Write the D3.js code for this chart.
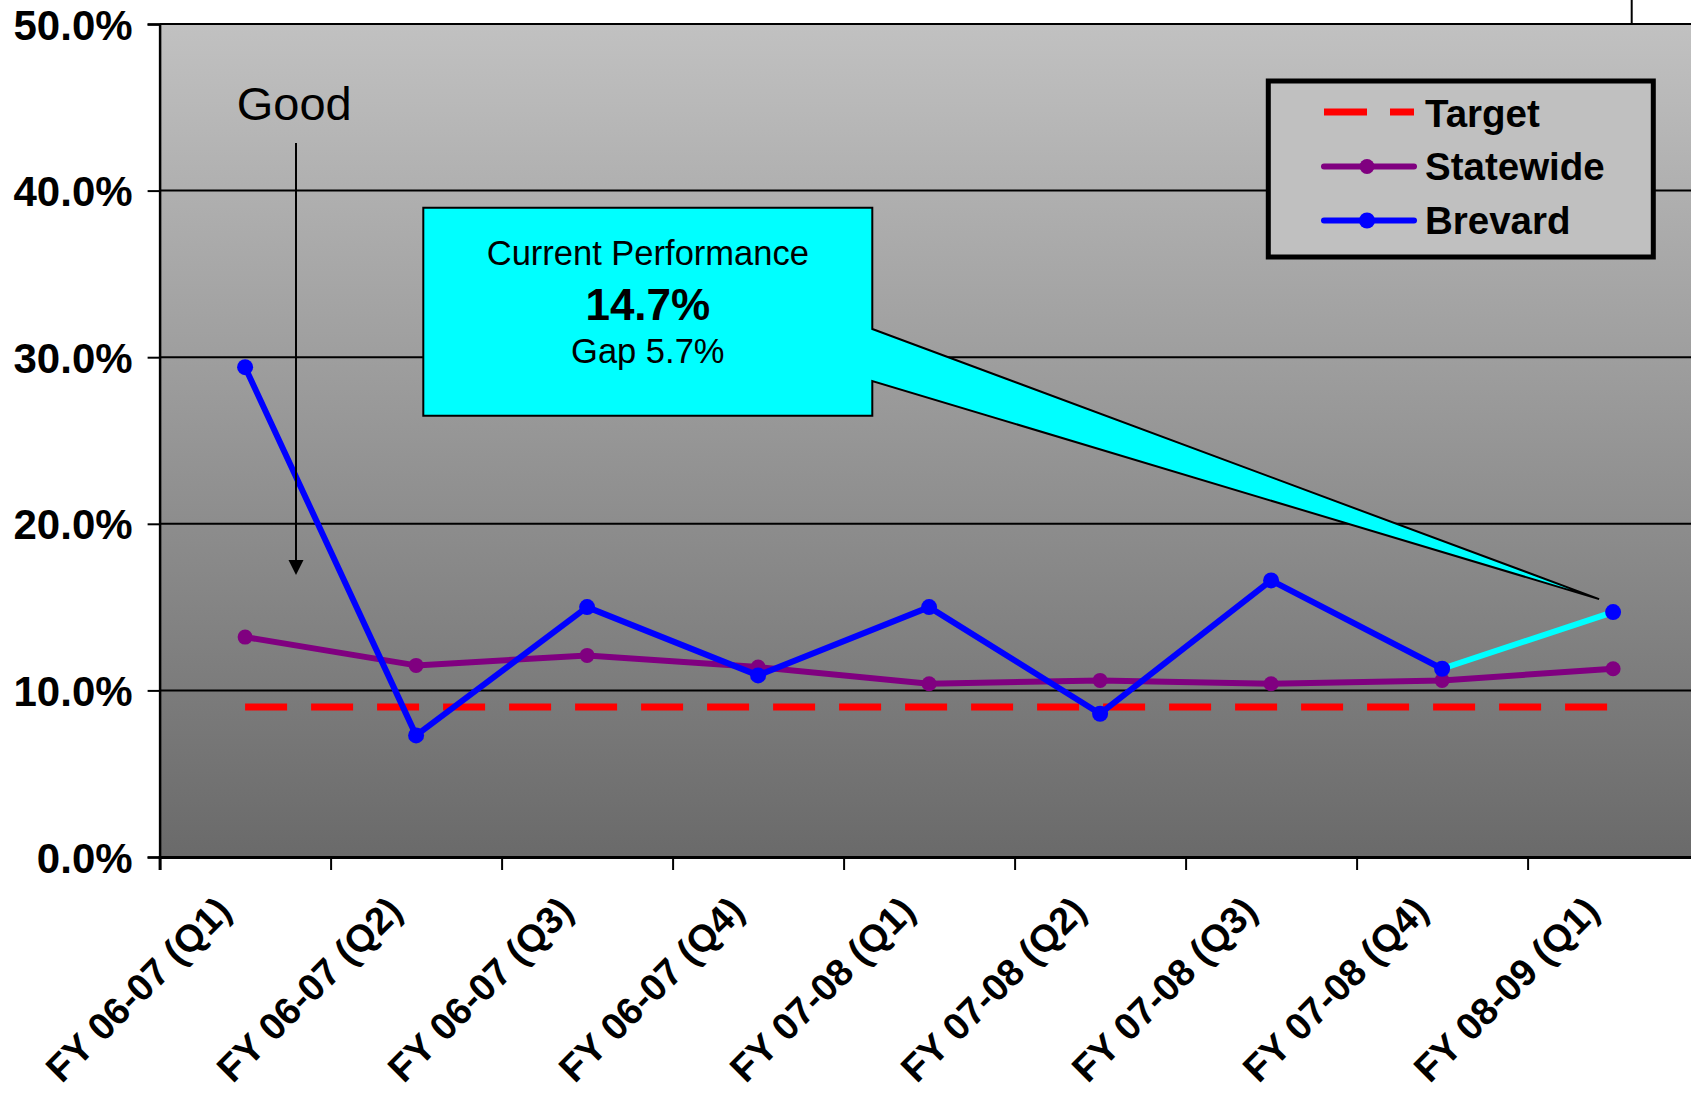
<!DOCTYPE html>
<html>
<head>
<meta charset="utf-8">
<script src="https://cdn.jsdelivr.net/npm/d3@7"></script>
<style>
  html, body { margin: 0; padding: 0; background: #ffffff; }
  svg { display: block; }
  text { font-family: "Liberation Sans", Arial, Helvetica, sans-serif; }
</style>
</head>
<body>
<svg id="chart" width="1691" height="1095"></svg>
<script>
// ---- data ----
const categories = ["FY 06-07 (Q1)", "FY 06-07 (Q2)", "FY 06-07 (Q3)", "FY 06-07 (Q4)",
  "FY 07-08 (Q1)", "FY 07-08 (Q2)", "FY 07-08 (Q3)", "FY 07-08 (Q4)", "FY 08-09 (Q1)"];
const brevard = [29.4, 7.3, 15.0, 10.9, 15.0, 8.6, 16.6, 11.3, 14.7];
const statewide = [13.2, 11.5, 12.1, 11.4, 10.4, 10.6, 10.4, 10.6, 11.3];
const target = [9.0, 9.0, 9.0, 9.0, 9.0, 9.0, 9.0, 9.0, 9.0];
const yTicks = [0, 10, 20, 30, 40, 50];
const seriesNames = ["Target", "Statewide", "Brevard"];
const calloutLines = ["Current Performance", "14.7%", "Gap 5.7%"];
const goodLabel = "Good";

// ---- layout ----
const W = 1691, H = 1095;
const plotLeft = 159.6, plotTop = 24, plotBottom = 857;
const bandW = 171;
const plotRight = plotLeft + bandW * categories.length;

const svg = d3.select("#chart");

const x = d3.scaleBand().domain(categories).range([plotLeft, plotRight]).padding(0);
const xEdge = d3.scaleLinear().domain([0, categories.length]).range([plotLeft, plotRight]);
const y = d3.scaleLinear().domain([0, 50]).range([plotBottom, plotTop]);
const cx = c => x(c) + x.bandwidth() / 2;

// gradient background
const defs = svg.append("defs");
const grad = defs.append("linearGradient").attr("id", "bg")
  .attr("x1", 0).attr("y1", 0).attr("x2", 0).attr("y2", 1);
grad.append("stop").attr("offset", "0%").attr("stop-color", "#c1c1c1");
grad.append("stop").attr("offset", "100%").attr("stop-color", "#6a6a6a");

svg.append("rect").attr("x", plotLeft).attr("y", plotTop)
  .attr("width", plotRight - plotLeft).attr("height", plotBottom - plotTop)
  .attr("fill", "url(#bg)");

// gridlines
svg.append("g").selectAll("line").data(yTicks.filter(t => t > 0 && t < 50)).join("line")
  .attr("x1", plotLeft).attr("x2", plotRight)
  .attr("y1", d => y(d)).attr("y2", d => y(d))
  .attr("stroke", "#000").attr("stroke-width", 2);

// top border + small vertical line above plot
svg.append("line").attr("x1", plotLeft).attr("x2", W).attr("y1", y(50)).attr("y2", y(50))
  .attr("stroke", "#000").attr("stroke-width", 2);
svg.append("line").attr("x1", 1631.7).attr("x2", 1631.7).attr("y1", 0).attr("y2", y(50))
  .attr("stroke", "#000").attr("stroke-width", 2);

// y axis
const yAxis = svg.append("g").attr("transform", `translate(${plotLeft},0)`)
  .call(d3.axisLeft(y).tickValues(yTicks).tickSize(12).tickPadding(15)
    .tickFormat(d => d3.format(".1f")(d) + "%"));
yAxis.select(".domain").attr("stroke", "#000").attr("stroke-width", 2.5);
yAxis.selectAll(".tick line").attr("stroke", "#000").attr("stroke-width", 2);
yAxis.selectAll(".tick text").attr("fill", "#000")
  .style("font-size", "42px").style("font-weight", "bold")
  .attr("dy", "0.36em");

// x axis (ticks at band edges)
const xAxis = svg.append("g").attr("transform", `translate(0,${plotBottom})`)
  .call(d3.axisBottom(xEdge).tickValues(d3.range(0, categories.length + 1))
    .tickSize(13).tickFormat(""));
xAxis.select(".domain").attr("stroke", "#000").attr("stroke-width", 3);
xAxis.selectAll(".tick line").attr("stroke", "#000").attr("stroke-width", 2);

// x labels
svg.append("g").selectAll("text").data(categories).join("text")
  .attr("transform", d => `translate(${cx(d) - 12},${plotBottom + 56}) rotate(-45)`)
  .attr("text-anchor", "end")
  .style("font-size", "38px").style("font-weight", "bold")
  .attr("fill", "#000")
  .text(d => d);

// target dashed line
const line = d3.line().x(d => cx(d.c)).y(d => y(d.v));
const tData = categories.map((c, i) => ({ c, v: target[i] }));
svg.append("path").datum(tData).attr("d", line)
  .attr("fill", "none").attr("stroke", "#ff0000").attr("stroke-width", 7)
  .attr("stroke-dasharray", "42,24");

// statewide
const sData = categories.map((c, i) => ({ c, v: statewide[i] }));
svg.append("path").datum(sData).attr("d", line)
  .attr("fill", "none").attr("stroke", "#800080").attr("stroke-width", 6)
  .attr("stroke-linejoin", "round");
svg.append("g").selectAll("circle").data(sData).join("circle")
  .attr("cx", d => cx(d.c)).attr("cy", d => y(d.v)).attr("r", 7.5)
  .attr("fill", "#800080");

// brevard
const bData = categories.map((c, i) => ({ c, v: brevard[i] }));
svg.append("path").datum(bData.slice(0, bData.length - 1)).attr("d", line)
  .attr("fill", "none").attr("stroke", "#0000ff").attr("stroke-width", 6)
  .attr("stroke-linejoin", "round");
svg.append("path").datum(bData.slice(bData.length - 2)).attr("d", line)
  .attr("fill", "none").attr("stroke", "#00ffff").attr("stroke-width", 6);
svg.append("g").selectAll("circle").data(bData).join("circle")
  .attr("cx", d => cx(d.c)).attr("cy", d => y(d.v)).attr("r", 8)
  .attr("fill", "#0000ff");

// "Good" annotation with arrow
svg.append("text").attr("x", 236.7).attr("y", 120)
  .style("font-size", "47px").attr("fill", "#000").text(goodLabel);
svg.append("line").attr("x1", 296).attr("x2", 296).attr("y1", 143).attr("y2", 562)
  .attr("stroke", "#000").attr("stroke-width", 2);
svg.append("path").attr("d", "M288.5,560 L303.5,560 L296,575 Z").attr("fill", "#000");

// callout
const last = bData[bData.length - 1];
const tipX = cx(last.c) - 14, tipY = y(last.v) - 13;
const bx0 = 423.3, by0 = 207.7, bx1 = 872.3, by1 = 415.7;
svg.append("path")
  .attr("d", `M${bx0},${by0} H${bx1} V329 L${tipX},${tipY} L${bx1},381 V${by1} H${bx0} Z`)
  .attr("fill", "#00ffff").attr("stroke", "#000").attr("stroke-width", 2)
  .attr("stroke-linejoin", "miter");
const ccx = (bx0 + bx1) / 2;
svg.append("text").attr("x", ccx).attr("y", 265).attr("text-anchor", "middle")
  .style("font-size", "34.5px").attr("fill", "#000").text(calloutLines[0]);
svg.append("text").attr("x", ccx).attr("y", 320).attr("text-anchor", "middle")
  .style("font-size", "44px").style("font-weight", "bold").attr("fill", "#000").text(calloutLines[1]);
svg.append("text").attr("x", ccx).attr("y", 363).attr("text-anchor", "middle")
  .style("font-size", "34.5px").attr("fill", "#000").text(calloutLines[2]);

// legend
const lg = svg.append("g");
lg.append("rect").attr("x", 1268.3).attr("y", 81).attr("width", 385).attr("height", 176)
  .attr("fill", "#c0c0c0").attr("stroke", "#000").attr("stroke-width", 5);
const rowsY = [112, 166.5, 220.5];
const baseY = [126.7, 180, 234];
lg.append("line").attr("x1", 1324).attr("x2", 1414).attr("y1", rowsY[0]).attr("y2", rowsY[0])
  .attr("stroke", "#ff0000").attr("stroke-width", 7).attr("stroke-dasharray", "43,23");
lg.append("line").attr("x1", 1324).attr("x2", 1414).attr("y1", rowsY[1]).attr("y2", rowsY[1])
  .attr("stroke", "#800080").attr("stroke-width", 6).attr("stroke-linecap", "round");
lg.append("circle").attr("cx", 1367).attr("cy", rowsY[1]).attr("r", 7.5).attr("fill", "#800080");
lg.append("line").attr("x1", 1324).attr("x2", 1414).attr("y1", rowsY[2]).attr("y2", rowsY[2])
  .attr("stroke", "#0000ff").attr("stroke-width", 6).attr("stroke-linecap", "round");
lg.append("circle").attr("cx", 1367).attr("cy", rowsY[2]).attr("r", 8).attr("fill", "#0000ff");
lg.selectAll("text.lt").data(seriesNames).join("text").attr("class", "lt")
  .attr("x", 1425).attr("y", (d, i) => baseY[i])
  .style("font-size", "38.5px").style("font-weight", "bold").attr("fill", "#000")
  .text(d => d);
</script>
</body>
</html>
